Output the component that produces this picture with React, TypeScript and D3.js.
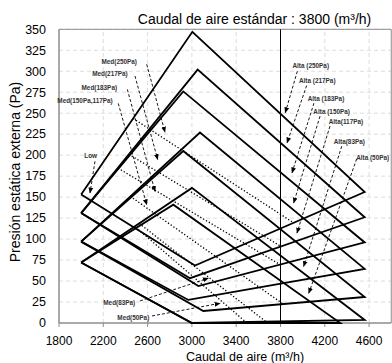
import React from "react";
import * as d3 from "d3";

const W = 392;
const H = 363;

// axis ticks
const xTicks = [1800, 2200, 2600, 3000, 3400, 3800, 4200, 4600];
const yTicks = [0, 25, 50, 75, 100, 125, 150, 175, 200, 225, 250, 275, 300, 325, 350];
const standardFlow = 3800;

// operating envelopes per ESP setting (Alta)
const espSettings = ["250Pa", "217Pa", "183Pa", "150Pa", "117Pa", "83Pa", "50Pa"];
const lowFlow = [2000, 2000, 2000, 2000, 2000, 2000, 2000];
const lowPress = [153, 131, 131, 97, 97, 72, 72];
const peakFlow = [3004, 3052, 2922, 3073, 2922, 3000, 2832];
const peakPress = [347, 302, 276, 227, 205, 161, 141];
const maxFlow = [4560, 4560, 4560, 4560, 4560, 4560, 4340];
const maxPress = [156, 126, 96, 64.5, 31, 3.6, 0];
const baseFlow = [3028, 2983, 3058, 2968, 3103, 3000, 3000];
const basePress = [68.5, 53.4, 44, 27.5, 14.3, 0, 0];

// Med (dotted) curves
const medStartFlow = [2470, 2431, 2333, 2443, 2524, 2493];
const medStartPress = [243.7, 201, 184.5, 151, 118.6, 114];
const medEndFlow = [3908, 3808, 3795, 3820, 3665, 3497];
const medEndPress = [120.3, 91, 69.7, 23, 2, 0];

// annotations: label, label position, arrow start, arrow tip
const altaLabels = ["Alta (250Pa)", "Alta (217Pa)", "Alta (183Pa)", "Alta (150Pa)", "Alta(117Pa)", "Alta(83Pa)", "Alta (50Pa)"];
const altaLabelFlow = [4073, 4132, 4211, 4262, 4391, 4421, 4632];
const altaLabelPress = [307, 289, 267, 252, 240, 216, 197];
const altaFromFlow = [3952, 4036, 4102, 4157, 4247, 4353, 4488];
const altaFromPress = [300, 283, 262, 246.5, 234.6, 210.7, 195.6];
const altaTipFlow = [3843, 3859, 3904, 3919, 3949, 4009, 4055];
const altaTipPress = [250.6, 214.7, 178.9, 143, 107.2, 67.3, 35.5];

const medLabels = ["Med(250Pa)", "Med(217Pa)", "Med(183Pa)", "Med(150Pa,117Pa)", "Low", "Med(83Pa)", "Med(50Pa)"];
const medLabelFlow = [2344, 2260, 2164, 2035, 2086, 2344, 2471];
const medLabelPress = [311.5, 297.5, 280.4, 264.4, 199.9, 24.7, 6.3];
const medFromFlow = [2592, 2486, 2417, 2335, 2125, 2531, 2640];
const medFromPress = [308.3, 294.3, 278.4, 261.7, 192.7, 26.3, 8.4];
const medTipFlow = [2757, 2691, 2667, 2592, 2080, 3148, 3254];
const medTipPress = [227.4, 194.8, 156.9, 141, 154.9, 53.4, 23.5];

const FONT = "'Liberation Sans', Arial, sans-serif";

export default function App() {
  const x = d3.scaleLinear().domain([1800, 4800]).range([59, 391.25]);
  const y = d3.scaleLinear().domain([0, 350]).range([323, 29.3]);
  const line = d3.line<[number, number]>().x((d) => x(d[0])).y((d) => y(d[1]));

  const quads = espSettings.map((_, i) => {
    const pts: [number, number][] = [
      [lowFlow[i], lowPress[i]],
      [peakFlow[i], peakPress[i]],
      [maxFlow[i], maxPress[i]],
      [baseFlow[i], basePress[i]],
      [lowFlow[i], lowPress[i]],
    ];
    return line(pts) as string;
  });

  const arrow = (fx: number, fy: number, tx: number, ty: number, key: string) => (
    <line
      key={key}
      x1={x(fx)}
      y1={y(fy)}
      x2={x(tx)}
      y2={y(ty)}
      stroke="#000"
      strokeWidth={0.9}
      strokeDasharray="3,2"
      markerEnd="url(#ah)"
    />
  );

  return (
    <svg width={W} height={H} style={{ position: "absolute", left: 0, top: 0, background: "#fff" }}>
      <defs>
        <marker id="ah" viewBox="0 0 10 10" refX="9" refY="5" markerWidth="6" markerHeight="6" orient="auto" markerUnits="userSpaceOnUse">
          <path d="M0,1 L10,5 L0,9 Z" fill="#000" />
        </marker>
      </defs>
      <rect x={0} y={0} width={W} height={H} fill="#fff" />
      {/* gridlines */}
      {yTicks.slice(1).map((t) => (
        <line key={"gy" + t} x1={x(1800)} x2={x(4800)} y1={y(t)} y2={y(t)} stroke="#d4d4d4" strokeWidth={0.8} strokeDasharray="4,3" />
      ))}
      {xTicks.slice(1).map((t) => (
        <line key={"gx" + t} x1={x(t)} x2={x(t)} y1={y(0)} y2={y(350)} stroke="#d4d4d4" strokeWidth={0.8} strokeDasharray="4,3" />
      ))}
      {/* frame */}
      <line x1={x(1800)} x2={x(4800)} y1={y(350)} y2={y(350)} stroke="#8c8c8c" strokeWidth={1} />
      <line x1={x(4800)} x2={x(4800)} y1={y(350)} y2={y(0)} stroke="#8c8c8c" strokeWidth={1} />
      {/* axes */}
      <line x1={x(1800)} x2={x(4800)} y1={y(0)} y2={y(0)} stroke="#8c8c8c" strokeWidth={1.5} />
      <line x1={x(1800)} x2={x(1800)} y1={y(0)} y2={y(350)} stroke="#8c8c8c" strokeWidth={1.5} />
      {xTicks.map((t) => (
        <line key={"tx" + t} x1={x(t)} x2={x(t)} y1={y(0)} y2={y(0) + 4} stroke="#8c8c8c" strokeWidth={1} />
      ))}
      {/* standard flow line */}
      <line x1={x(standardFlow)} x2={x(standardFlow)} y1={y(350)} y2={y(0)} stroke="#000" strokeWidth={1} />
      {/* envelopes */}
      {quads.map((d, i) => (
        <path key={"q" + i} d={d} fill="none" stroke="#000" strokeWidth={1.8} strokeLinejoin="miter" />
      ))}
      {/* med curves */}
      {medStartFlow.map((_, i) => (
        <line
          key={"m" + i}
          x1={x(medStartFlow[i])}
          y1={y(medStartPress[i])}
          x2={x(medEndFlow[i])}
          y2={y(medEndPress[i])}
          stroke="#000"
          strokeWidth={1.3}
          strokeDasharray="1.3,2"
        />
      ))}
      {/* annotations */}
      {altaLabels.map((l, i) => arrow(altaFromFlow[i], altaFromPress[i], altaTipFlow[i], altaTipPress[i], "aa" + i))}
      {medLabels.map((l, i) => arrow(medFromFlow[i], medFromPress[i], medTipFlow[i], medTipPress[i], "ma" + i))}
      {altaLabels.map((l, i) => (
        <text key={"al" + i} x={x(altaLabelFlow[i])} y={y(altaLabelPress[i]) + 2.3} fontSize={6.4} fontFamily={FONT} fontWeight="bold" fill="#333333" textAnchor="middle">
          {l}
        </text>
      ))}
      {medLabels.map((l, i) => (
        <text key={"ml" + i} x={x(medLabelFlow[i])} y={y(medLabelPress[i]) + 2.3} fontSize={6.4} fontFamily={FONT} fontWeight="bold" fill="#333333" textAnchor="middle">
          {l}
        </text>
      ))}
      {/* tick labels */}
      {yTicks.map((t) => (
        <text key={"yl" + t} x={46} y={y(t) + 4.3} fontSize={12.5} fontFamily={FONT} fill="#000" textAnchor="end">
          {t}
        </text>
      ))}
      {xTicks.map((t) => (
        <text key={"xl" + t} x={x(t)} y={344.5} fontSize={12} fontFamily={FONT} fill="#000" textAnchor="middle">
          {t}
        </text>
      ))}
      {/* titles */}
      <text x={254.5} y={24} fontSize={14} fontFamily={FONT} fill="#000" textAnchor="middle">
        Caudal de aire estándar : 3800 (m³/h)
      </text>
      <text x={245} y={360.5} fontSize={12.5} fontFamily={FONT} fill="#000" textAnchor="middle">
        Caudal de aire (m³/h)
      </text>
      <text transform="translate(19.5,172) rotate(-90)" fontSize={14} fontFamily={FONT} fill="#000" textAnchor="middle">
        Presión estática externa (Pa)
      </text>
    </svg>
  );
}
